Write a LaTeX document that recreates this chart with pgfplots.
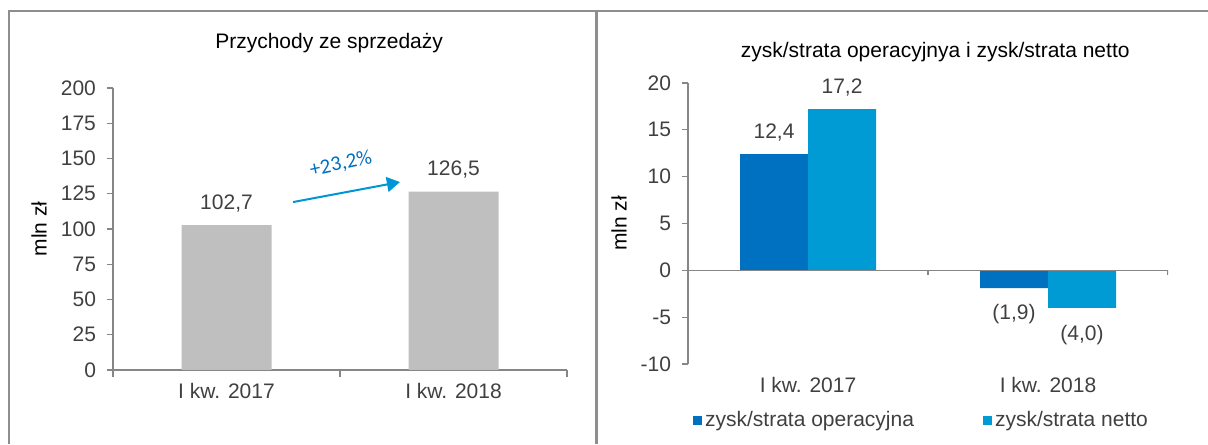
\documentclass[border=0pt]{standalone}
\usepackage{fontspec}
\setmainfont{Liberation Sans}
\newfontfamily\carlito{Carlito}
\usepackage{pgfplots}
\pgfplotsset{compat=1.18}
\usepackage{pgfplotstable}
\usetikzlibrary{arrows.meta}
\definecolor{txt}{HTML}{404040}
\definecolor{axg}{HTML}{868686}
\definecolor{brd}{HTML}{8E8E8E}
\definecolor{gbar}{HTML}{BFBFBF}
\definecolor{dblue}{HTML}{0070C0}
\definecolor{lblue}{HTML}{009BD5}
\definecolor{arrblue}{HTML}{0096D6}

\pgfplotstableread{
x y lab sh
0 102.7 102,7 11
1 126.5 126,5 11
}\revdata
\pgfplotstableread{
x y lab sh
0 12.4 12,4 11
1 -1.9 (1,9) -13
}\opdata
\pgfplotstableread{
x y lab sh
0 17.2 17,2 11
1 -4.0 (4,0) -13.5
}\netdata

\newcommand{\fs}{\fontsize{10.5}{12.6}\selectfont}

\pgfplotsset{
  common/.style={
    scale only axis,
    anchor=south west,
    enlargelimits=false,
    font=\fs,
    every tick label/.append style={text=txt, font=\fs},
    yticklabel style={xshift=-2pt},
    /pgf/number format/assume math mode=true,
    axis line style={draw=axg, line width=0.6pt},
    tick style={draw=axg, line width=0.6pt},
    tick align=outside,
    major tick length=3pt,
    minor tick length=3.5pt,
    xtick={0,1},
    xticklabels={I kw. 2017, I kw. 2018},
    xmin=-0.5, xmax=1.5,
    ylabel={mln zł},
    ylabel style={text=txt, font=\fs},
    title style={text=txt, font=\fs},
    ybar,
    point meta=explicit symbolic,
    visualization depends on={\thisrow{sh} \as \sh},
    nodes near coords,
    nodes near coords style={text=txt, font=\fs, anchor=center, yshift=\sh pt},
  }
}

\begin{document}
\begin{tikzpicture}
\useasboundingbox (0,0) rectangle (604pt,222pt);
\draw[brd, line width=1.25pt] (4.5pt,0) -- (4.5pt,216.5pt) -- (604pt,216.5pt);
\draw[brd, line width=1.25pt] (298.25pt,0) -- (298.25pt,216.5pt);

% Left chart
\begin{axis}[common,
  at={(56.5pt,37pt)}, width=227pt, height=141pt,
  ymin=0, ymax=200, ytick={0,25,...,200},
  axis x line*=bottom, axis y line*=left,
  minor xtick={-0.5,0.5,1.5},
  major x tick style={draw=none},
  bar width=45pt,
  title={Przychody ze sprzedaży},
  every axis title/.style={at={(axis description cs:0.476,1.160)}, anchor=center},
  every axis y label/.style={at={(axis description cs:-0.163,0.5)}, rotate=90, anchor=center},
]
\addplot[fill=gbar, draw=none] table[x=x, y=y, meta=lab] {\revdata};
\draw[arrblue, line width=1pt, -{Triangle[length=6.5pt,width=7.5pt]}]
  (axis cs:0.293,119.1) -- (axis cs:0.764,133.3);
\node[text=dblue, font=\carlito\fontsize{10.5}{12.6}\selectfont, rotate=12, anchor=center]
  at (axis cs:0.504,146) {+23,2\%};
\end{axis}

% Right chart
\begin{axis}[common,
  at={(344pt,40pt)}, width=240pt, height=140.5pt,
  ymin=-10, ymax=20, ytick={-10,-5,...,20},
  axis x line*=bottom, axis y line*=left,
  x axis line style={draw=none},
  major x tick style={draw=none},
  bar width=34pt,
  title={zysk/strata operacyjnya i zysk/strata netto},
  every axis title/.style={at={(axis description cs:0.515,1.110)}, anchor=center},
  every axis y label/.style={at={(axis description cs:-0.144,0.5)}, rotate=90, anchor=center},
  legend style={at={(axis description cs:0.4875,-0.2)}, anchor=center, draw=none, fill=none,
    legend columns=2, font=\fs, text=txt,
    /tikz/every even column/.append style={column sep=33pt},
    nodes={inner sep=1.5pt}},
]
\addplot[fill=dblue, draw=none, bar shift=-17pt,
  legend image code/.code={\fill[dblue] (0pt,-2.25pt) rectangle (4.5pt,2.25pt);}]
  table[x=x, y=y, meta=lab] {\opdata};
\addplot[fill=lblue, draw=none, bar shift=17pt,
  legend image code/.code={\fill[lblue] (0pt,-2.25pt) rectangle (4.5pt,2.25pt);}]
  table[x=x, y=y, meta=lab] {\netdata};
\legend{zysk/strata operacyjna, zysk/strata netto}
\draw[axg, line width=0.6pt] (axis cs:-0.5,0) -- (axis cs:1.5,0);
\draw[axg, line width=0.6pt] (axis cs:0.5,0) -- ++(0pt,-2.5pt);
\draw[axg, line width=0.6pt] (axis cs:1.5,0) -- ++(0pt,-2.5pt);
\end{axis}
\end{tikzpicture}
\end{document}
